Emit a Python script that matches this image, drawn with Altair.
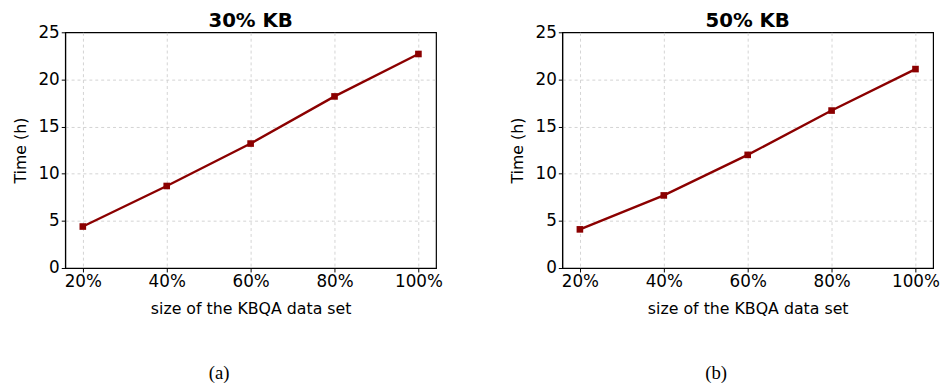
import altair as alt
import pandas as pd

sizes = [20, 40, 60, 80, 100]
time_30 = [4.4, 8.7, 13.2, 18.2, 22.7]
time_50 = [4.1, 7.7, 12.0, 16.7, 21.1]
titles = ["30% KB", "50% KB"]
captions = ["(a)", "(b)"]
y_ticks = [0, 5, 10, 15, 20, 25]

FONT = "DejaVu Sans"
W, H = 376, 239
COLOR = "#8b0000"


def panel(values, title, caption):
    df = pd.DataFrame({"size": sizes, "time": values})
    x = alt.X(
        "size:Q",
        scale=alt.Scale(domain=[15.8, 104.2], nice=False, zero=False),
        axis=alt.Axis(values=sizes, labelExpr="datum.value + '%'", title="size of the KBQA data set",
                      titlePadding=11),
    )
    y = alt.Y(
        "time:Q",
        scale=alt.Scale(domain=[0, 25], nice=False),
        axis=alt.Axis(
            values=y_ticks, title="Time (h)", titlePadding=10,
            gridOpacity={"condition": {"test": "datum.value == 25 || datum.value == 0", "value": 0}, "value": 1},
        ),
    )
    base = alt.Chart(df)
    line = base.mark_line(color=COLOR, strokeWidth=2.4).encode(x=x, y=y)
    pts = base.mark_square(color=COLOR, size=45, opacity=1).encode(x=x, y=y)
    cap = alt.Chart(pd.DataFrame({"c": [caption]})).mark_text(
        font="Liberation Serif", fontSize=19, color="black"
    ).encode(text="c:N", x=alt.value(W / 2 - 32), y=alt.value(H + 107))
    return alt.layer(line, pts, cap).properties(
        width=W, height=H,
        title=alt.TitleParams(title, font=FONT, fontSize=20, fontWeight="bold", offset=-8),
    )


chart = alt.hconcat(
    panel(time_30, titles[0], captions[0]),
    panel(time_50, titles[1], captions[1]),
    spacing=65,
).properties(
    background="white", padding={"left": 3, "top": 0, "right": 0, "bottom": 0}
).configure_view(stroke="black", strokeWidth=1.2).configure_axis(
    labelFont=FONT, titleFont=FONT, labelFontSize=17, titleFontSize=16,
    labelColor="black", titleColor="black", titleFontWeight="normal",
    domainColor="black", tickColor="black", tickSize=4,
    gridColor="#c8c8c8", gridDash=[3, 3], gridWidth=0.8, labelPadding=2,
)

chart.save("out.html", embed_options={"renderer": "svg", "actions": False})
